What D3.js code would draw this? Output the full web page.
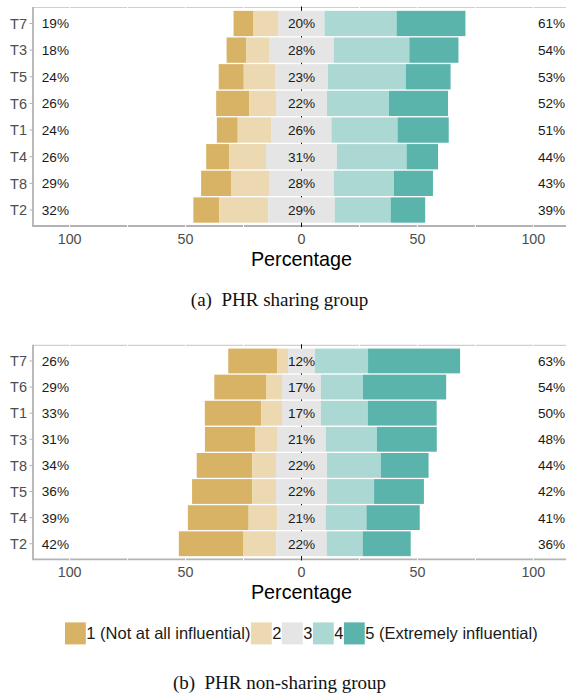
<!DOCTYPE html>
<html><head><meta charset="utf-8">
<script src="https://cdn.jsdelivr.net/npm/d3@7"></script>
<style>body{margin:0;background:#fff}svg{display:block}</style>
</head><body>
<svg id="c" width="566" height="694"></svg>
<script>
// ---- data ----
const levels = ["1 (Not at all influential)", "2", "3", "4", "5 (Extremely influential)"];
const colors = ["#d8b365", "#ecd9b1", "#e5e5e5", "#acd8d4", "#5ab4ac"];
const xTicks = [-100, -75, -50, -25, 0, 25, 50, 75, 100];
const xTickLabels = [-100, -50, 0, 50, 100];

// Panel (a) PHR sharing group
const rowsA = ["T7", "T3", "T5", "T6", "T1", "T4", "T8", "T2"];
const a1 = [8.6, 8.4, 10.8, 14.2, 9.0, 10.0, 12.9, 11.2];
const a2 = [10.8, 9.9, 13.5, 11.6, 14.6, 15.8, 16.4, 21.1];
const a3 = [19.8, 28.0, 22.8, 22.0, 25.8, 30.6, 28.0, 28.7];
const a4 = [31.1, 32.5, 33.6, 26.7, 28.5, 30.0, 25.9, 24.1];
const a5 = [29.7, 21.2, 19.3, 25.5, 22.1, 13.6, 16.8, 14.9];

// Panel (b) PHR non-sharing group
const rowsB = ["T7", "T6", "T1", "T3", "T8", "T5", "T4", "T2"];
const b1 = [21.1, 22.5, 24.3, 21.6, 24.0, 25.9, 26.2, 27.9];
const b2 = [4.7, 6.7, 9.0, 9.5, 10.2, 10.3, 12.4, 14.1];
const b3 = [11.6, 16.8, 16.8, 21.1, 22.0, 22.0, 20.8, 21.8];
const b4 = [22.9, 18.1, 20.2, 22.0, 23.2, 20.3, 17.6, 15.5];
const b5 = [39.7, 35.9, 29.7, 25.8, 20.6, 21.5, 23.0, 20.7];

const captionA = "(a)\u2002PHR sharing group";
const captionB = "(b)\u2002PHR non-sharing group";

// ---- drawing ----
const svg = d3.select("#c");
const sans = "'Liberation Sans', Arial, sans-serif";
const serif = "'Liberation Serif', 'Times New Roman', serif";
const x = d3.scaleLinear().domain([-115.8, 115.8]).range([33, 570]);

function panel(rows, series, top, bottom, caption, withLegend) {
  const g = svg.append("g");
  const y = d3.scalePoint().domain(rows).range([top, bottom]).padding(0.6);
  const bh = y.step() * 0.95;
  const data = rows.map((r, i) => {
    const v = series.map(s => s[i]);
    let start = -(v[0] + v[1] + v[2] / 2);
    const segs = v.map((val, k) => { const s = {k, x0: start, x1: start + val}; start += val; return s; });
    return {row: r, v, segs, low: v[0] + v[1], mid: v[2], high: v[3] + v[4]};
  });

  // zero line (black) behind bars
  g.append("line").attr("x1", x(0)).attr("x2", x(0)).attr("y1", top).attr("y2", bottom)
    .attr("stroke", "#000").attr("stroke-width", 1);

  // bars
  const rowG = g.selectAll("g.row").data(data).join("g").attr("class", "row");
  rowG.selectAll("rect").data(d => d.segs.map(s => ({...s, row: d.row}))).join("rect")
    .attr("x", s => x(s.x0)).attr("width", s => x(s.x1) - x(s.x0))
    .attr("y", s => y(s.row) - bh / 2).attr("height", bh)
    .attr("fill", s => colors[s.k]);

  // borders
  g.append("line").attr("x1", 33).attr("x2", 566).attr("y1", top).attr("y2", top)
    .attr("stroke", "#cfcfcf").attr("stroke-width", 1.2);
  g.append("line").attr("x1", 33).attr("x2", 566).attr("y1", bottom).attr("y2", bottom)
    .attr("stroke", "#b3b3b3").attr("stroke-width", 1.8);
  g.append("line").attr("x1", 33).attr("x2", 33).attr("y1", top - 0.6).attr("y2", bottom + 0.9)
    .attr("stroke", "#b3b3b3").attr("stroke-width", 1.8);

  // gridline marks on borders
  xTicks.forEach(t => {
    g.append("line").attr("x1", x(t)).attr("x2", x(t)).attr("y1", top - 1).attr("y2", top + 1)
      .attr("stroke", t === 0 ? "#000" : "#fff").attr("stroke-width", 1);
    g.append("line").attr("x1", x(t)).attr("x2", x(t)).attr("y1", bottom - 1).attr("y2", bottom + 1)
      .attr("stroke", t === 0 ? "#000" : "#fff").attr("stroke-width", 1);
  });

  // y axis
  rows.forEach(r => {
    g.append("line").attr("x1", 29.5).attr("x2", 33).attr("y1", y(r)).attr("y2", y(r))
      .attr("stroke", "#b3b3b3").attr("stroke-width", 1);
  });
  g.selectAll("text.ylab").data(rows).join("text").attr("class", "ylab")
    .attr("x", 27).attr("y", r => y(r)).attr("dy", "0.36em").attr("text-anchor", "end")
    .attr("font-family", sans).attr("font-size", 14.5).attr("fill", "#4d4d4d").text(r => r);

  // percentage labels
  const pct = v => Math.round(v) + "%";
  g.selectAll("text.lo").data(data).join("text").attr("class", "lo")
    .attr("x", x(-112)).attr("y", d => y(d.row)).attr("dy", "0.36em")
    .attr("font-family", sans).attr("font-size", 13.6).attr("fill", "#1a1a1a").text(d => pct(d.low));
  g.selectAll("text.mid").data(data).join("text").attr("class", "mid")
    .attr("x", x(0)).attr("y", d => y(d.row)).attr("dy", "0.36em").attr("text-anchor", "middle")
    .attr("font-family", sans).attr("font-size", 13.6).attr("fill", "#1a1a1a").text(d => pct(d.mid));
  g.selectAll("text.hi").data(data).join("text").attr("class", "hi")
    .attr("x", x(102)).attr("y", d => y(d.row)).attr("dy", "0.36em")
    .attr("font-family", sans).attr("font-size", 13.6).attr("fill", "#1a1a1a").text(d => pct(d.high));

  // x tick labels
  g.selectAll("text.xt").data(xTickLabels).join("text").attr("class", "xt")
    .attr("x", t => x(t)).attr("y", bottom + 17.5).attr("text-anchor", "middle")
    .attr("font-family", sans).attr("font-size", 14.3).attr("fill", "#4d4d4d").text(t => Math.abs(t));

  g.append("text").attr("x", x(0)).attr("y", bottom + 40).attr("text-anchor", "middle")
    .attr("font-family", sans).attr("font-size", 19.8).attr("fill", "#000").text("Percentage");

  let capY = bottom + 79.5;
  if (withLegend) {
    const lg = g.append("g");
    let cx = 65;
    const sy = bottom + 63, sw = 20.8, sh = 22;
    levels.forEach((lab, k) => {
      lg.append("rect").attr("x", cx).attr("y", sy).attr("width", sw).attr("height", sh).attr("fill", colors[k]);
      cx += sw + 0.5;
      const t = lg.append("text").attr("x", cx).attr("y", sy + sh / 2).attr("dy", "0.36em")
        .attr("font-family", sans).attr("font-size", 16.5).attr("fill", "#1a1a1a").text(lab);
      cx += t.node().getComputedTextLength() + 0.5;
    });
    capY = bottom + 129.5;
  }
  g.append("text").attr("x", x(0) - 22).attr("y", capY).attr("text-anchor", "middle")
    .attr("font-family", serif).attr("font-size", 19).attr("fill", "#111").text(caption);
}

panel(rowsA, [a1, a2, a3, a4, a5], 7.5, 226, captionA, false);
panel(rowsB, [b1, b2, b3, b4, b5], 345.3, 559.4, captionB, true);
</script>
</body></html>
